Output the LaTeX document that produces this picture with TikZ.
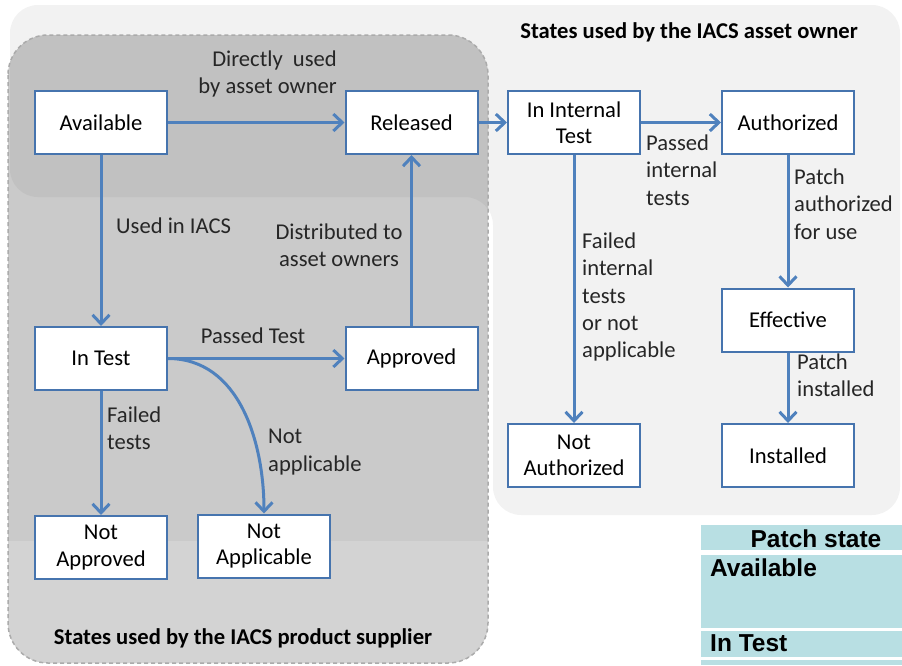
\documentclass[tikz,border=0pt]{standalone}
\usepackage{fontspec}
\setmainfont{Carlito}
\newfontfamily\tabfont{Liberation Sans}
\usetikzlibrary{arrows.meta}
\definecolor{boxblue}{HTML}{4674AE}
\definecolor{arrblue}{HTML}{4F81BD}
\definecolor{ownergray}{HTML}{F2F2F2}
\definecolor{supgray}{HTML}{CACACA}
\definecolor{overgray}{HTML}{C1C1C1}
\definecolor{lowgray}{HTML}{D3D3D3}
\definecolor{dashgray}{HTML}{ABABAB}
\definecolor{tabcyan}{HTML}{B8DFE3}
\begin{document}
\begin{tikzpicture}[x=1pt,y=-1pt,
  state/.style={draw=boxblue, line width=2pt, fill=white, minimum width=132pt, minimum height=63pt, inner sep=0pt, align=center, font=\fontsize{22.6}{26.5}\selectfont},
  lbl/.style={align=left, inner sep=0pt, font=\fontsize{22.6}{27.3}\selectfont, text=black!85},
  arr/.style={draw=arrblue, line width=3pt, -{Straight Barb[length=9pt,width=17pt]}},
  title/.style={font=\bfseries\fontsize{22.6}{26}\selectfont, inner sep=0pt},
  tabtxt/.style={font=\tabfont\bfseries\fontsize{24.5}{28}\selectfont, inner sep=0pt}]
\useasboundingbox (0,0) rectangle (902,665);
% asset owner region (L shape)
\fill[ownergray, rounded corners=28pt] (10,5) -- (900,5) -- (900,515) -- (493,515) -- (493,197) -- (10,197) -- cycle;
% product supplier region
\fill[supgray, rounded corners=40pt] (8,35) rectangle (488,663);
\begin{scope}
  \clip[rounded corners=40pt] (8,35) rectangle (488,663);
  \fill[overgray, rounded corners=28pt] (10,5) -- (900,5) -- (900,515) -- (493,515) -- (493,197) -- (10,197) -- cycle;
  \fill[lowgray] (0,541) rectangle (500,670);
\end{scope}
\draw[dashgray, line width=1.5pt, dash pattern=on 4pt off 3pt, rounded corners=40pt] (8,35) rectangle (488,663);
% titles
\node[title] (ttop) at (689,32) {States used by the IACS asset owner};
\node[title] (tbot) at (243,638) {States used by the IACS product supplier};
% table
\fill[tabcyan] (701,525) rectangle (902,550);
\fill[tabcyan] (701,555) rectangle (902,628);
\fill[tabcyan] (701,631) rectangle (902,657);
\fill[tabcyan] (701,660) rectangle (902,665);
\node[tabtxt] (th) at (816,539) {Patch state};
\node[tabtxt, anchor=west] (tav) at (710,568) {Available};
\node[tabtxt, anchor=west] (tit) at (710,643) {In Test};
% states
\node[state] (avail) at (101,122.5) {Available};
\node[state] (rel) at (411.5,122.5) {Released};
\node[state] (iit) at (574,122.5) {In Internal\\Test};
\node[state] (auth) at (788,122.5) {Authorized};
\node[state] (eff) at (788,320) {Effective};
\node[state] (inst) at (788,455.5) {Installed};
\node[state] (nauth) at (574,455.5) {Not\\Authorized};
\node[state] (intest) at (101,358.5) {In Test};
\node[state] (appr) at (411.5,358.5) {Approved};
\node[state] (nappr) at (101,547.5) {Not\\Approved};
\node[state] (nappl) at (264,546) {Not\\Applicable};
% connectors
\draw[arr] (avail) -- (rel);
\draw[arr] (avail) -- (intest);
\draw[arr] (appr) -- (rel);
\draw[arr] (intest) -- (appr);
\draw[arr] (intest) -- (nappr);
\draw[arr] (intest.east) to[out=0,in=90] (nappl.north);
\draw[arr] (rel) -- (iit);
\draw[arr] (iit) -- (auth);
\draw[arr] (iit) -- (nauth);
\draw[arr] (auth) -- (eff);
\draw[arr] (eff) -- (inst);
% labels
\node[lbl, align=right, anchor=east] (l1) at (337,74) {Directly\ \ used\\by asset owner};
\node[lbl, anchor=west] (l2) at (116,226) {Used in IACS};
\node[lbl, align=center] (l3) at (339,245) {Distributed to\\asset owners};
\node[lbl] (l4) at (253,336) {Passed Test};
\node[lbl, anchor=west] (l5) at (107,428) {Failed\\tests};
\node[lbl, anchor=west] (l6) at (268,452) {Not\\applicable};
\node[lbl, anchor=west] (l7) at (646,170) {Passed\\internal\\tests};
\node[lbl, anchor=west] (l8) at (582,297) {Failed\\internal\\tests\\or not\\applicable};
\node[lbl, anchor=west] (l9) at (794,204) {Patch\\authorized\\for use};
\node[lbl, anchor=west] (l10) at (797,375) {Patch\\installed};
\end{tikzpicture}
\end{document}
